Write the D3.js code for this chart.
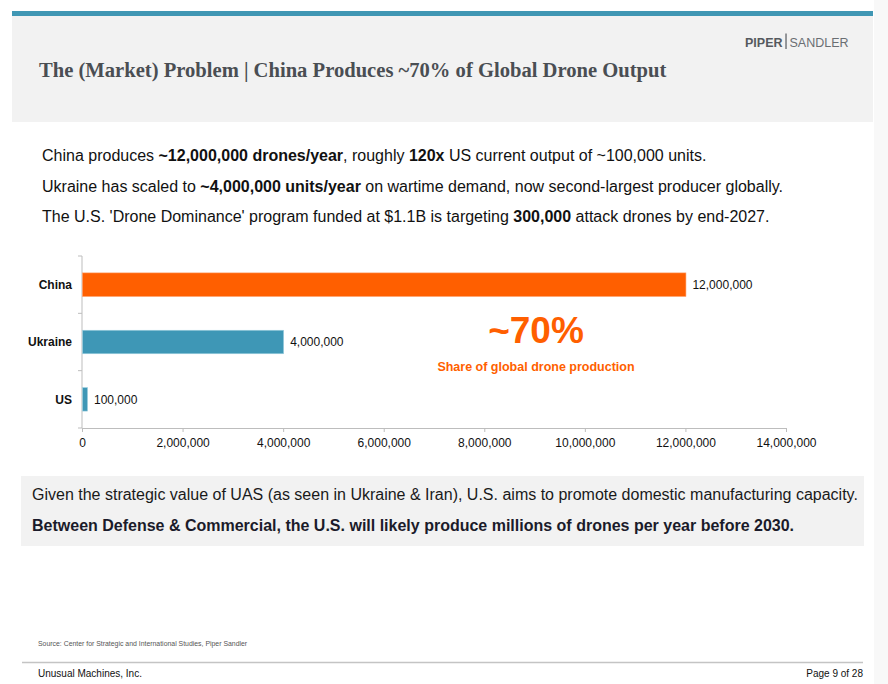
<!DOCTYPE html>
<html>
<head>
<meta charset="utf-8">
<script src="https://cdn.jsdelivr.net/npm/d3@7"></script>
<style>
  html, body { margin: 0; padding: 0; background: #fff; }
  svg { display: block; font-family: "Liberation Sans", Arial, sans-serif; }
</style>
</head>
<body>
<div id="graphic"></div>
<script>
// data
const categories = ["China", "Ukraine", "US"];
const values = [12000000, 4000000, 100000];
const barColors = ["#ff5f00", "#3e97b6", "#3e97b6"];
const xTicks = [0, 2000000, 4000000, 6000000, 8000000, 10000000, 12000000, 14000000];

const bullets = [
  [["China produces ", false], ["~12,000,000 drones/year", true], [", roughly ", false], ["120x", true], [" US current output of ~100,000 units.", false]],
  [["Ukraine has scaled to ", false], ["~4,000,000 units/year", true], [" on wartime demand, now second-largest producer globally.", false]],
  [["The U.S. 'Drone Dominance' program funded at $1.1B is targeting ", false], ["300,000", true], [" attack drones by end-2027.", false]]
];
const takeaways = [
  ["Given the strategic value of UAS (as seen in Ukraine & Iran), U.S. aims to promote domestic manufacturing capacity.", false],
  ["Between Defense & Commercial, the U.S. will likely produce millions of drones per year before 2030.", true]
];

const W = 888, H = 684;
const svg = d3.select("#graphic")
    .append("svg")
    .attr("width", W)
    .attr("height", H);

// page edge
svg.append("rect").attr("x", 874).attr("y", 0).attr("width", 14).attr("height", H).attr("fill", "#f8f8f8");

// header
svg.append("rect").attr("x", 12).attr("y", 15).attr("width", 861).attr("height", 107).attr("fill", "#f2f2f2");
svg.append("rect").attr("x", 12).attr("y", 11).attr("width", 861).attr("height", 5).attr("fill", "#4097b4");

svg.append("text")
    .attr("x", 39).attr("y", 77)
    .attr("font-family", "'Liberation Serif', 'Times New Roman', serif")
    .attr("font-weight", "bold")
    .attr("font-size", 20.6)
    .attr("fill", "#4a4e53")
    .text("The (Market) Problem | China Produces ~70% of Global Drone Output");

// logo: PIPER | SANDLER
const piper = svg.append("text")
    .attr("x", 745).attr("y", 46.5)
    .attr("font-size", 12.5)
    .attr("font-weight", "bold")
    .attr("fill", "#55595e")
    .text("PIPER");
const pw = piper.node().getComputedTextLength();
svg.append("line")
    .attr("x1", 745 + pw + 3.5).attr("x2", 745 + pw + 3.5).attr("y1", 33.5).attr("y2", 49)
    .attr("stroke", "#55595e").attr("stroke-width", 1.2);
svg.append("text")
    .attr("x", 745 + pw + 7).attr("y", 46.5)
    .attr("font-size", 12.5)
    .attr("fill", "#6a6e73")
    .text("SANDLER");

// bullet lines
bullets.forEach((parts, i) => {
    const t = svg.append("text")
        .attr("x", 42).attr("y", 161 + i * 30.5)
        .attr("font-size", 16)
        .attr("fill", "#111");
    parts.forEach(p => {
        t.append("tspan").attr("font-weight", p[1] ? "bold" : "normal").text(p[0]);
    });
});

// chart
const x = d3.scaleLinear()
    .domain([0, 14000000])
    .range([82, 786]);
const y = d3.scaleBand()
    .domain(categories)
    .range([256, 428])
    .paddingInner(0.59)
    .paddingOuter(0.295);

const axisColor = "#bdbdbd";

// x axis
const xAxis = svg.append("g")
    .attr("transform", `translate(0, ${y.range()[1]})`)
    .call(d3.axisBottom(x).tickValues(xTicks).tickFormat(d3.format(",")).tickSize(4).tickSizeOuter(0));
xAxis.select(".domain").attr("stroke", axisColor);
xAxis.selectAll(".tick line").attr("stroke", axisColor);
xAxis.selectAll(".tick text")
    .attr("font-family", "'Liberation Sans', Arial, sans-serif")
    .attr("font-size", 12)
    .attr("fill", "#111")
    .attr("dy", "1.0em");

// y axis line and boundary ticks
svg.append("line")
    .attr("x1", x(0)).attr("x2", x(0))
    .attr("y1", y.range()[0]).attr("y2", y.range()[1])
    .attr("stroke", axisColor);
d3.range(categories.length + 1).forEach(i => {
    const yy = y.range()[0] + i * y.step();
    svg.append("line")
        .attr("x1", x(0) - 4).attr("x2", x(0))
        .attr("y1", yy).attr("y2", yy)
        .attr("stroke", axisColor);
});

// bars
svg.selectAll(".bar")
    .data(categories)
    .join("rect")
    .attr("class", "bar")
    .attr("x", x(0) + 0.5)
    .attr("y", d => y(d))
    .attr("width", (d, i) => x(values[i]) - x(0))
    .attr("height", y.bandwidth())
    .attr("fill", (d, i) => barColors[i])
    .attr("stroke", (d, i) => i === 0 ? "#ff9a60" : "#9fd0e0")
    .attr("stroke-width", 0.6);

// category labels
svg.selectAll(".cat")
    .data(categories)
    .join("text")
    .attr("class", "cat")
    .attr("x", 72)
    .attr("y", d => y(d) + y.bandwidth() / 2)
    .attr("dy", "0.35em")
    .attr("text-anchor", "end")
    .attr("font-weight", "bold")
    .attr("font-size", 12)
    .attr("fill", "#111")
    .text(d => d);

// value labels
svg.selectAll(".val")
    .data(categories)
    .join("text")
    .attr("class", "val")
    .attr("x", (d, i) => x(values[i]) + 7)
    .attr("y", d => y(d) + y.bandwidth() / 2)
    .attr("dy", "0.35em")
    .attr("font-size", 12)
    .attr("fill", "#111")
    .text((d, i) => d3.format(",")(values[i]));

// callout
svg.append("text")
    .attr("x", 536).attr("y", 342.5)
    .attr("text-anchor", "middle")
    .attr("font-weight", "bold")
    .attr("font-size", 37)
    .attr("fill", "#ff5f00")
    .text("~70%");
svg.append("text")
    .attr("x", 536).attr("y", 370.5)
    .attr("text-anchor", "middle")
    .attr("font-weight", "bold")
    .attr("font-size", 12.5)
    .attr("fill", "#ff5f00")
    .text("Share of global drone production");

// takeaway box
svg.append("rect").attr("x", 21).attr("y", 476).attr("width", 843).attr("height", 70).attr("fill", "#f2f2f2");
takeaways.forEach((t, i) => {
    svg.append("text")
        .attr("x", 32).attr("y", 500 + i * 31)
        .attr("font-size", 16)
        .attr("font-weight", t[1] ? "bold" : "normal")
        .attr("fill", t[1] ? "#1b1b2a" : "#1a1a1a")
        .text(t[0]);
});

// footer
svg.append("text")
    .attr("x", 38).attr("y", 645.5)
    .attr("font-size", 6.9)
    .attr("fill", "#555")
    .text("Source: Center for Strategic and International Studies, Piper Sandler");
svg.append("line")
    .attr("x1", 22).attr("x2", 863).attr("y1", 662.5).attr("y2", 662.5)
    .attr("stroke", "#c4c4c4").attr("stroke-width", 1.5);
svg.append("text")
    .attr("x", 38).attr("y", 676.5)
    .attr("font-size", 10)
    .attr("fill", "#111")
    .text("Unusual Machines, Inc.");
svg.append("text")
    .attr("x", 863).attr("y", 676.5)
    .attr("text-anchor", "end")
    .attr("font-size", 10)
    .attr("fill", "#111")
    .text("Page 9 of 28");
</script>
</body>
</html>
